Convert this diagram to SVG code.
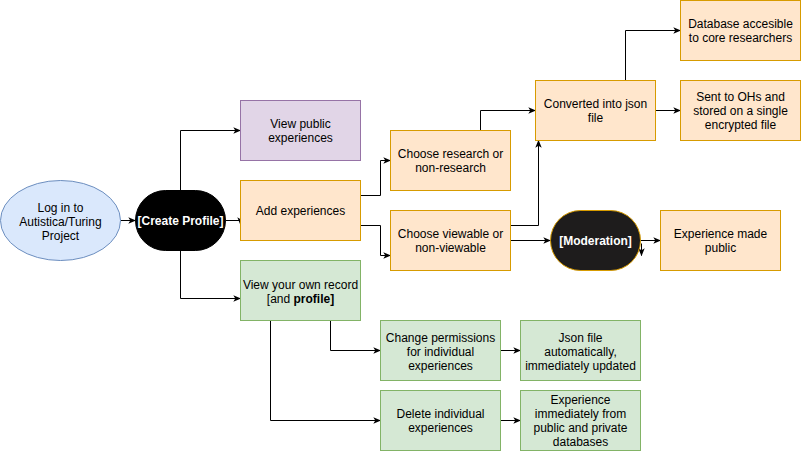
<svg xmlns="http://www.w3.org/2000/svg" width="801" height="451" viewBox="0 0 801 451">
<defs>
<marker id="arr" viewBox="0 0 10 10" refX="9" refY="5" markerWidth="8" markerHeight="8" markerUnits="userSpaceOnUse" orient="auto">
<path d="M0,1 L10,5 L0,9 L2.5,5 z" fill="#000"/>
</marker>
<style>
text{font-family:"Liberation Sans",Arial,Helvetica,sans-serif;font-size:12px;fill:#000;text-anchor:middle}
.o{fill:#ffe6cc;stroke:#d79b00}
.g{fill:#d5e8d4;stroke:#82b366}
.p{fill:#e1d5e7;stroke:#9673a6}
.b{fill:#dae8fc;stroke:#6c8ebf}
.edge{fill:none;stroke:#000;stroke-width:1;marker-end:url(#arr)}
.w{fill:#fff;font-weight:bold}
</style>
</defs>
<rect width="801" height="451" fill="#fff"/>
<g transform="translate(0.5 0.5)">
<g id="connectors">
<path class="edge" d="M120 220 H135"/>
<path class="edge" d="M225 220 H240 V224"/>
<path class="edge" d="M180 190 V130 H240"/>
<path class="edge" d="M180 250 V298 H240"/>
<path class="edge" d="M360 195 H380 V160 H390"/>
<path class="edge" d="M360 225 H380 V255 H390"/>
<path class="edge" d="M480 130 V110 H535"/>
<path class="edge" d="M510 225 H538 V140"/>
<path class="edge" d="M510 240 H550"/>
<path class="edge" d="M625 80 V30 H680"/>
<path class="edge" d="M655 110 H680"/>
<path class="edge" d="M640 240 H660"/>
<path class="edge" d="M641 243 V255"/>
<path class="edge" d="M330 320 V350 H380"/>
<path class="edge" d="M270 320 V420 H380"/>
<path class="edge" d="M500 350 H520"/>
<path class="edge" d="M500 420 H520"/>
</g>
<g id="login">
<ellipse class="b" cx="60" cy="220" rx="60" ry="40"/>
<text x="60" y="211">Log in to</text>
<text x="60" y="225">Autistica/Turing</text>
<text x="60" y="239">Project</text>
</g>
<g id="createProfile">
<rect x="135" y="190" width="90" height="60" rx="30" ry="30" fill="#000" stroke="#000"/>
<text class="w" x="180" y="224">[Create Profile]</text>
</g>
<g id="viewPublic">
<rect class="p" x="240" y="100" width="120" height="60"/>
<text x="300" y="127">View public</text>
<text x="300" y="141">experiences</text>
</g>
<g id="addExperiences">
<rect class="o" x="240" y="180" width="120" height="60"/>
<text x="300" y="214">Add experiences</text>
</g>
<g id="viewOwn">
<rect class="g" x="240" y="260" width="120" height="60"/>
<text x="300" y="288">View your own record</text>
<text x="300" y="302">[and <tspan font-weight="bold">profile]</tspan></text>
</g>
<g id="chooseResearch">
<rect class="o" x="390" y="130" width="120" height="60"/>
<text x="450" y="157">Choose research or</text>
<text x="450" y="171">non-research</text>
</g>
<g id="chooseViewable">
<rect class="o" x="390" y="210" width="120" height="60"/>
<text x="450" y="237">Choose viewable or</text>
<text x="450" y="251">non-viewable</text>
</g>
<g id="converted">
<rect class="o" x="535" y="80" width="120" height="60"/>
<text x="595" y="107">Converted into json</text>
<text x="595" y="121">file</text>
</g>
<g id="database">
<rect class="o" x="680" y="0" width="120" height="60"/>
<text x="740" y="27">Database accesible</text>
<text x="740" y="41">to core researchers</text>
</g>
<g id="sentOHs">
<rect class="o" x="680" y="80" width="120" height="60"/>
<text x="740" y="100">Sent to OHs and</text>
<text x="740" y="114">stored on a single</text>
<text x="740" y="128">encrypted file</text>
</g>
<g id="moderation">
<rect x="550" y="210" width="90" height="60" rx="30" ry="30" fill="#1e1c1c" stroke="#d79b00"/>
<text class="w" x="595" y="244">[Moderation]</text>
</g>
<g id="madePublic">
<rect class="o" x="660" y="210" width="120" height="60"/>
<text x="720" y="237">Experience made</text>
<text x="720" y="251">public</text>
</g>
<g id="changePermissions">
<rect class="g" x="380" y="320" width="120" height="60"/>
<text x="440" y="341">Change permissions</text>
<text x="440" y="355">for individual</text>
<text x="440" y="369">experiences</text>
</g>
<g id="jsonUpdated">
<rect class="g" x="520" y="320" width="120" height="60"/>
<text x="580" y="341">Json file</text>
<text x="580" y="355">automatically,</text>
<text x="580" y="369">immediately updated</text>
</g>
<g id="deleteIndividual">
<rect class="g" x="380" y="390" width="120" height="60"/>
<text x="440" y="417">Delete individual</text>
<text x="440" y="431">experiences</text>
</g>
<g id="experienceRemoved">
<rect class="g" x="520" y="390" width="120" height="60"/>
<text x="580" y="403">Experience</text>
<text x="580" y="417">immediately from</text>
<text x="580" y="431">public and private</text>
<text x="580" y="445">databases</text>
</g>
</g>
</svg>
